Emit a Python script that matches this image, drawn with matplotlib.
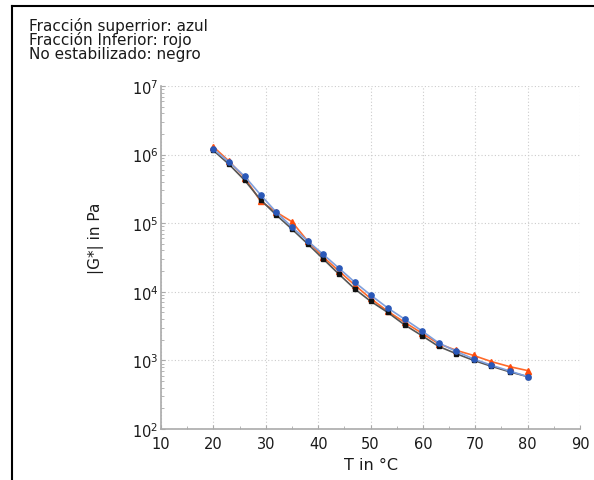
import matplotlib
matplotlib.use('Agg')
import matplotlib.pyplot as plt
from matplotlib.lines import Line2D
from matplotlib.ticker import LogLocator, MultipleLocator

plt.rcParams['font.family'] = ['DejaVu Sans']

# Temperaturas (°C)
temperatura = [20, 23, 26, 29, 32, 35, 38, 41, 44, 47, 50,
               53.3, 56.5, 59.8, 63, 66.4, 69.7, 73.1, 76.6, 80]

# |G*| en Pa
fraccion_superior = [1.2e6, 7.8e5, 4.8e5, 2.6e5, 1.45e5, 8.8e4, 5.5e4, 3.5e4, 2.2e4, 1.38e4,
                     9.0e3, 5.8e3, 4.0e3, 2.7e3, 1.8e3, 1.35e3, 1.05e3, 8.5e2, 7.0e2, 5.8e2]
fraccion_inferior = [1.3e6, 8.0e5, 4.6e5, 2.1e5, 1.45e5, 1.05e5, 5.5e4, 3.2e4, 2.0e4, 1.25e4,
                     8.0e3, 5.2e3, 3.6e3, 2.5e3, 1.75e3, 1.4e3, 1.18e3, 9.6e2, 8.1e2, 7.1e2]
no_estabilizado = [1.15e6, 7.2e5, 4.2e5, 2.2e5, 1.32e5, 8.2e4, 5.0e4, 3.0e4, 1.8e4, 1.1e4,
                   7.3e3, 5.0e3, 3.3e3, 2.3e3, 1.6e3, 1.25e3, 1.0e3, 8.2e2, 6.8e2, 5.8e2]

leyenda = ["Fracción superrior: azul",
           "Fracción Inferior: rojo",
           "No estabilizado: negro"]

fig = plt.figure(figsize=(5.94, 4.81), dpi=100)
ax = fig.add_axes([161/594, 1 - 430/481, 419/594, 343/481])

ax.plot(temperatura, fraccion_inferior, color='#ff6a2a', lw=1.2, marker='^',
        ms=4.5, mfc='#ff4a0a', mec='#ff4a0a', zorder=3)
ax.plot(temperatura, no_estabilizado, color='#555555', lw=1.2, marker='s',
        ms=3.2, mfc='#111111', mec='#111111', zorder=4)
ax.plot(temperatura, fraccion_superior, color='#7f9fdc', lw=1.2, marker='o',
        ms=3.8, mfc='#2a58b8', mec='#2a58b8', zorder=5)

ax.set_yscale('log')
ax.set_xlim(10, 90)
ax.set_ylim(1e2, 1e7)
ax.xaxis.set_major_locator(MultipleLocator(10))
ax.xaxis.set_minor_locator(MultipleLocator(5))
ax.yaxis.set_major_locator(LogLocator(base=10, numticks=10))

ax.grid(True, which='major', color='#cccccc', lw=0.8, ls=(0, (1, 2)))
for s in ['top', 'right']:
    ax.spines[s].set_visible(False)
for s in ['left', 'bottom']:
    ax.spines[s].set_color('#aaaaaa')
    ax.spines[s].set_linewidth(1.2)

ax.tick_params(which='both', direction='in', colors='#aaaaaa', labelcolor='#1a1a1a',
               labelsize=10.5)
ax.tick_params(which='major', length=3)
ax.tick_params(axis='y', which='major', pad=2)
ax.tick_params(axis='x', which='major', pad=5)
ax.tick_params(which='minor', length=2)

ax.set_xlabel('T in °C', fontsize=11.5, color='#1a1a1a')
ax.set_ylabel('|G*| in Pa', fontsize=11, color='#1a1a1a')
ax.xaxis.set_label_coords(0.5, -0.083)
ax.yaxis.set_label_coords(-0.135, 0.56)

# leyenda como un solo bloque de texto, con interlineado apretado
fig.text(29/594, 1 - 40/481, "\n".join(leyenda), fontsize=11, color='#1a1a1a',
         va='center', ha='left', linespacing=0.87)

# marco exterior
fig.add_artist(Line2D([12/594, 12/594], [0, 1 - 7/481], transform=fig.transFigure,
                      color='black', lw=1.5))
fig.add_artist(Line2D([12/594, 1], [1 - 7/481, 1 - 7/481], transform=fig.transFigure,
                      color='black', lw=1.5))

fig.savefig('out.png', dpi=100)
